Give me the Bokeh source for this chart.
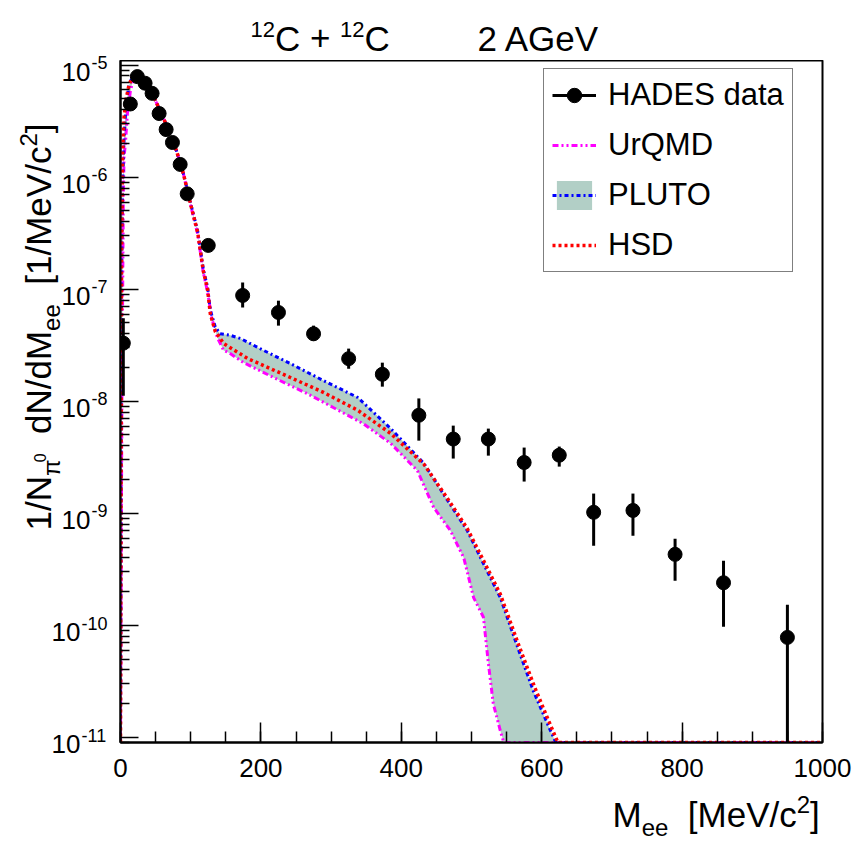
import math
from bokeh.plotting import figure
from bokeh.layouts import column, row
from bokeh.models import (Range1d, FixedTicker, Label, Legend, LegendItem,
                          ColumnDataSource, CustomJSTickFormatter)
from bokeh.embed import file_html
from bokeh.resources import INLINE

# ---------------- data ----------------
hades_m = [4, 14, 24, 35, 45, 55, 65, 74, 85, 95, 125, 174, 225, 275, 325, 373,
           425, 474, 524, 575, 625, 674, 730, 790, 859, 950]
hades_y = [3.3e-8, 4.5e-6, 7.9e-6, 6.9e-6, 5.6e-6, 3.7e-6, 2.66e-6, 2.04e-6, 1.3e-6,
           7.1e-7, 2.46e-7, 8.8e-8, 6.2e-8, 4.0e-8, 2.4e-8, 1.74e-8, 7.5e-9, 4.6e-9,
           4.6e-9, 2.84e-9, 3.3e-9, 1.02e-9, 1.06e-9, 4.3e-10, 2.4e-10, 7.8e-11]
hades_hi = [5.5e-8, 4.8e-6, 8.5e-6, 7.3e-6, 5.9e-6, 3.9e-6, 2.8e-6, 2.15e-6, 1.37e-6,
            7.5e-7, 2.65e-7, 1.15e-7, 7.9e-8, 4.73e-8, 2.95e-8, 2.21e-8, 1.06e-8,
            6.06e-9, 5.7e-9, 3.86e-9, 3.94e-9, 1.5e-9, 1.5e-9, 5.93e-10, 3.78e-10, 1.53e-10]
hades_lo = [1.12e-8, 4.2e-6, 7.4e-6, 6.5e-6, 5.3e-6, 3.5e-6, 2.52e-6, 1.93e-6, 1.23e-6,
            6.7e-7, 2.28e-7, 6.86e-8, 4.73e-8, 3.48e-8, 1.95e-8, 1.35e-8, 4.45e-9,
            3.08e-9, 3.27e-9, 1.92e-9, 2.61e-9, 5.14e-10, 6.3e-10, 2.5e-10, 9.7e-11, 1e-13]

Y_FLOOR = 9e-12  # model curves that vanish are drawn on the lower frame edge

pluto_m = [0, 1.5, 3, 5, 8, 12, 17, 23, 30, 40, 50, 60, 70, 80, 90, 100, 110, 118, 124,
           128, 135, 142, 155, 171, 204, 242, 289, 338, 385, 432, 466, 494, 517, 541,
           566, 588, 608, 620, 1000]
pluto_v = [Y_FLOOR, 1.2e-7, 8e-7, 2.2e-6, 4.5e-6, 6.5e-6, 8.0e-6, 8.3e-6, 7.6e-6, 6.3e-6,
           4.8e-6, 3.5e-6, 2.5e-6, 1.7e-6, 1.05e-6, 5.8e-7, 3.3e-7, 1.5e-7, 1.05e-7,
           6.5e-8, 4.6e-8, 4.0e-8, 3.9e-8, 3.63e-8, 2.84e-8, 2.17e-8, 1.53e-8, 1.08e-8,
           5.7e-9, 2.8e-9, 1.3e-9, 7.0e-10, 3.56e-10, 1.77e-10, 6.3e-11, 2.6e-11,
           1.33e-11, Y_FLOOR, Y_FLOOR]

hsd_m = [0, 1.5, 3, 5, 8, 12, 17, 23, 30, 40, 50, 60, 70, 80, 90, 100, 110, 118, 124,
         128, 135, 147, 181, 242, 289, 338, 385, 432, 466, 494, 517, 541, 566, 590, 610,
         623, 1000]
hsd_v = [Y_FLOOR, 2e-7, 1.5e-6, 3.4e-6, 5.0e-6, 6.6e-6, 8.0e-6, 8.3e-6, 7.6e-6, 6.3e-6,
         4.8e-6, 3.5e-6, 2.5e-6, 1.7e-6, 1.05e-6, 5.7e-7, 3.2e-7, 1.45e-7, 1.0e-7, 6.0e-8,
         4.2e-8, 3.27e-8, 2.41e-8, 1.63e-8, 1.2e-8, 8.3e-9, 5.15e-9, 2.75e-9, 1.35e-9,
         7.3e-10, 3.8e-10, 1.9e-10, 7.0e-11, 2.8e-11, 1.4e-11, Y_FLOOR, Y_FLOOR]

urqmd_m = [0, 2, 4, 5, 7, 10, 14, 18, 23, 30, 40, 50, 60, 70, 80, 90, 100, 110, 118, 124,
           130, 138, 147, 155, 175, 218, 266, 303, 346, 385, 423, 446, 470, 489, 503, 517,
           524, 531, 541, 546, 1000]
urqmd_v = [Y_FLOOR, 1e-8, 6e-7, 1.5e-6, 2e-6, 3.8e-6, 5.8e-6, 7.5e-6, 8.2e-6, 7.6e-6,
           6.3e-6, 4.8e-6, 3.5e-6, 2.5e-6, 1.7e-6, 1.05e-6, 5.6e-7, 3.1e-7, 1.4e-7, 9.5e-8,
           5.5e-8, 3.7e-8, 2.84e-8, 2.7e-8, 2.22e-8, 1.63e-8, 1.17e-8, 8.8e-9, 6.3e-9,
           4.2e-9, 2.4e-9, 1.13e-9, 7.0e-10, 4.0e-10, 1.77e-10, 1.18e-10, 4.6e-11, 2.0e-11,
           1.15e-11, Y_FLOOR, Y_FLOOR]

x_major = [0, 200, 400, 600, 800, 1000]
x_minor = list(range(0, 1001, 50))
y_decades = [-11, -10, -9, -8, -7, -6, -5]
y_major = [10.0 ** k for k in y_decades]
y_minor = [d * 10.0 ** k for k in range(-12, -4) for d in range(2, 10)]

# ---------------- geometry (canvas pixels) ----------------
FONT = "Liberation Sans"
W, H = 863, 841
FL, FR, FT, FB = 120, 822, 60, 742      # frame edges of the main plot
LEFT_W = 108                             # width of the left text strip
BOT = 792                                # top of the bottom text strip
X_MIN, X_MAX = 0, 1000
Y_MIN, Y_MAX = 9e-12, 1.1e-5
PPD = (FB - FT) / math.log10(Y_MAX / Y_MIN)   # pixels per decade
MID = 0.35   # distance (in em) from the baseline up to the vertical text centre


def blank(width, height, x_range, y_range, **kw):
    f = figure(width=width, height=height, x_range=x_range, y_range=y_range,
               output_backend="svg", toolbar_location=None, title=None,
               x_axis_location=None, y_axis_location=None,
               min_border=0, min_border_left=0, min_border_right=0,
               min_border_top=0, min_border_bottom=0, frame_align=False, **kw)
    f.outline_line_color = None
    f.xgrid.visible = False
    f.ygrid.visible = False
    f.background_fill_color = "white"
    f.border_fill_color = "white"
    return f


# ---------------- main plot ----------------
p = figure(width=W - LEFT_W, height=BOT - FT, x_range=Range1d(X_MIN, X_MAX),
           y_range=Range1d(Y_MIN, Y_MAX), y_axis_type="log", title=None,
           output_backend="svg", toolbar_location=None, frame_align=False,
           min_border_left=FL - LEFT_W, min_border_right=W - FR,
           min_border_top=0, min_border_bottom=BOT - FB)
p.background_fill_color = "white"
p.border_fill_color = "white"
p.outline_line_color = "black"
p.outline_line_width = 2
p.xgrid.visible = False
p.ygrid.visible = False

xa = p.xaxis[0]
xa.ticker = FixedTicker(ticks=x_major, minor_ticks=x_minor)
xa.axis_line_width = 2
xa.major_tick_in = 20
xa.major_tick_out = 0
xa.minor_tick_in = 11
xa.minor_tick_out = 0
xa.major_tick_line_width = 1.5
xa.minor_tick_line_width = 1.5
xa.major_label_text_font = FONT
xa.major_label_text_font_size = "26px"
xa.major_label_text_color = "black"
xa.major_label_standoff = 16

ya = p.yaxis[0]
ya.ticker = FixedTicker(ticks=y_major, minor_ticks=y_minor)
ya.formatter = CustomJSTickFormatter(code="return ''")
ya.major_label_standoff = 0
ya.axis_line_width = 2
ya.major_tick_in = 18
ya.major_tick_out = 0
ya.minor_tick_in = 9
ya.minor_tick_out = 0
ya.major_tick_line_width = 1.5
ya.minor_tick_line_width = 1.5

BAND = "#b2cfc6"
band = p.patch(list(pluto_m) + list(reversed(urqmd_m)),
               list(pluto_v) + list(reversed(urqmd_v)),
               fill_color=BAND, line_color=None)
l_urqmd = p.line(urqmd_m, urqmd_v, line_color="#ff00ff", line_width=3,
                 line_dash="6 3 2 3 2 3")
l_pluto = p.line(pluto_m, pluto_v, line_color="#0000ff", line_width=3,
                 line_dash="4 3 2 3")
l_hsd = p.line(hsd_m, hsd_v, line_color="#ff0000", line_width=3.5,
               line_dash="3 3")

src = ColumnDataSource(dict(m=hades_m, y=hades_y, lo=hades_lo, hi=hades_hi))
err = p.segment(x0="m", y0="lo", x1="m", y1="hi", source=src,
                line_color="black", line_width=3)
pts = p.scatter(x="m", y="y", source=src, size=14, marker="circle",
                fill_color="black", line_color="black")

legend = Legend(items=[
    LegendItem(label="HADES data", renderers=[err, pts]),
    LegendItem(label="UrQMD", renderers=[l_urqmd]),
    LegendItem(label="PLUTO", renderers=[band, l_pluto]),
    LegendItem(label="HSD", renderers=[l_hsd]),
], location=(543 - FL, FB - 272), margin=0,
    padding=8, spacing=14, glyph_width=44, glyph_height=36, label_height=36,
    label_standoff=12, label_text_font=FONT, label_text_font_size="31px",
    label_text_color="black", border_line_color="black", border_line_width=1.5,
    background_fill_color="white", background_fill_alpha=1.0)
p.add_layout(legend)

# ---------------- text strips ----------------
# left strip spans the full page height; title / bottom strips sit right of it
title_fig = blank(W - LEFT_W, FT, Range1d(0, W - LEFT_W), Range1d(0, FT))
left_fig = blank(LEFT_W, H, Range1d(0, LEFT_W),
                 Range1d(Y_MIN / 10 ** ((H - FB) / PPD), Y_MAX * 10 ** (FT / PPD)),
                 y_axis_type="log")
bottom_fig = blank(W - LEFT_W, H - BOT, Range1d(0, W - LEFT_W), Range1d(0, H - BOT))

# canvas origin (left, top) and height of each strip
STRIPS = {id(title_fig): (LEFT_W, 0, FT), id(left_fig): (0, 0, H),
          id(bottom_fig): (LEFT_W, BOT, H - BOT)}

WID = {' ': .278, '/': .278, '[': .278, ']': .278, '+': .584, '-': .333,
       'C': .722, 'A': .667, 'G': .778, 'e': .556, 'V': .667, 'M': .833,
       'N': .722, 'd': .556, 'c': .5, '\u03c0': .57}


def tw(s, size):
    return sum(WID.get(ch, .556) for ch in s) * size


def put(fig, text, size, cx, cy, align="left", angle=0.0):
    # (cx, cy): canvas pixel position of the text baseline start
    ox, oy, h = STRIPS[id(fig)]
    if angle:
        cx -= MID * size        # rotated text: its centre lies left of the baseline
    else:
        cy -= MID * size
    fig.add_layout(Label(x=fig.x_range.start, y=fig.y_range.start,
                         x_offset=cx - ox, y_offset=(oy + h) - cy,
                         text=text, text_font=FONT, text_font_size=f"{size}px",
                         text_color="black", text_align=align,
                         text_baseline="middle", angle=angle))


def compose_h(fig, pieces, x0, base):
    x = x0
    for text, size, dy in pieces:
        if text:
            put(fig, text, size, x, base - dy)
        x += tw(text, size) if text else size


def compose_v(fig, pieces, bx, y0):
    y = y0
    for text, size, dy in pieces:
        if text:
            put(fig, text, size, bx - dy, y, angle=math.pi / 2)
        y -= tw(text, size) if text else size


# title
compose_h(title_fig, [("12", 22, 13), ("C", 35, 0), ("", 9.7, 0), ("+", 35, 0),
                      ("", 9.7, 0), ("12", 22, 13), ("C", 35, 0)], 250, 50)
put(title_fig, "2 AGeV", 35, 477, 50)

# x axis title
compose_h(bottom_fig, [("M", 35, 0), ("ee", 24, -9), ("", 19.5, 0), ("[MeV/c", 35, 0),
                       ("2", 24, 14), ("]", 35, 0)], 612, 826)

# y axis title
compose_v(left_fig, [("1/N", 35, 0), ("\u03c0", 24, -9), ("0", 16, 5), ("", 19.5, 0),
                     ("dN/dM", 35, 0), ("ee", 24, -9), ("", 19.5, 0),
                     ("[1/MeV/c", 35, 0), ("2", 24, 14), ("]", 35, 0)], 50, 530)

# y tick labels 10^k, anchored at the tick value on the shared log scale
for k in y_decades:
    sup = f"-{abs(k)}"
    sw = tw(sup, 18)
    left_fig.add_layout(Label(x=0, y=10.0 ** k, x_offset=107 - sw,
                              y_offset=-4 + MID * 18,
                              text=sup, text_font=FONT, text_font_size="18px",
                              text_color="black", text_align="left",
                              text_baseline="middle"))
    left_fig.add_layout(Label(x=0, y=10.0 ** k, x_offset=107 - sw - 1,
                              y_offset=-16 + MID * 26,
                              text="10", text_font=FONT, text_font_size="26px",
                              text_color="black", text_align="right",
                              text_baseline="middle"))

page = row(left_fig, column(title_fig, p, bottom_fig, spacing=0), spacing=0)
open("out.html", "w").write(file_html(page, INLINE))
